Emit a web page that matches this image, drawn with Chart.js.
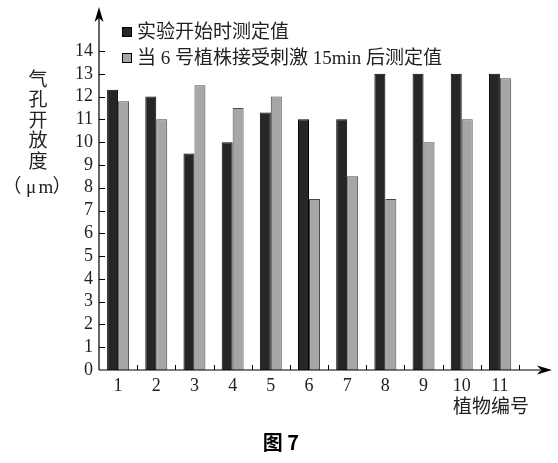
<!DOCTYPE html>
<html>
<head>
<meta charset="utf-8">
<script src="https://cdn.jsdelivr.net/npm/chart.js@4"></script>
<style>
    body { margin: 0; background: #fff; }
    canvas { display: block; }
</style>
</head>
<body>
<canvas id="chart" width="558" height="463"></canvas>
<script>
    var plantLabels = ['1', '2', '3', '4', '5', '6', '7', '8', '9', '10', '11'];
    var startValues = [12.3, 12, 9.5, 10, 11.3, 11, 11, 13, 13, 13, 13];
    var afterValues = [11.8, 11, 12.5, 11.5, 12, 7.5, 8.5, 7.5, 10, 11, 12.8];
    var yTicks = [0, 1, 2, 3, 4, 5, 6, 7, 8, 9, 10, 11, 12, 13, 14];

    var serif = '"Liberation Serif", "Noto Sans CJK SC", serif';
    var textColor = '#222';

    // axis arrows, inner ticks, legend and titles drawn over the chart
    var decorations = {
        id: 'decorations',
        afterDraw: function (chart) {
            var ctx = chart.ctx;
            var area = chart.chartArea;
            var y = chart.scales.y;
            ctx.save();
            ctx.strokeStyle = '#000';
            ctx.fillStyle = '#000';
            ctx.lineWidth = 1.2;

            // axes with arrows
            ctx.beginPath();
            ctx.moveTo(area.left, area.bottom);
            ctx.lineTo(area.left, 14);
            ctx.moveTo(area.left, area.bottom);
            ctx.lineTo(540, area.bottom);
            ctx.stroke();
            ctx.beginPath();
            ctx.moveTo(area.left, 7);
            ctx.lineTo(area.left - 4.5, 22);
            ctx.lineTo(area.left, 18);
            ctx.lineTo(area.left + 4.5, 22);
            ctx.closePath();
            ctx.fill();
            ctx.beginPath();
            ctx.moveTo(552, area.bottom);
            ctx.lineTo(537, area.bottom - 4.5);
            ctx.lineTo(541, area.bottom);
            ctx.lineTo(537, area.bottom + 4.5);
            ctx.closePath();
            ctx.fill();

            // y ticks pointing inward
            ctx.lineWidth = 1;
            ctx.beginPath();
            yTicks.forEach(function (v) {
                if (v === 0) return;
                var py = Math.round(y.getPixelForValue(v)) + 0.5;
                ctx.moveTo(area.left, py);
                ctx.lineTo(area.left + 6, py);
            });
            // x ticks at category boundaries
            var step = (area.right - area.left) / plantLabels.length;
            for (var i = 1; i <= plantLabels.length; i++) {
                var px = Math.round(area.left + step * i) + 0.5;
                ctx.moveTo(px, area.bottom);
                ctx.lineTo(px, area.bottom - 5);
            }
            ctx.stroke();

            // legend
            ctx.font = '19px ' + serif;
            ctx.textBaseline = 'middle';
            ctx.textAlign = 'left';
            var rows = [32, 58];
            chart.data.datasets.forEach(function (ds, idx) {
                ctx.fillStyle = ds.backgroundColor;
                ctx.fillRect(122, rows[idx] - 5, 10, 10);
                ctx.strokeStyle = '#000';
                ctx.strokeRect(122.5, rows[idx] - 4.5, 9, 9);
                ctx.fillStyle = textColor;
                ctx.fillText(ds.label, 137, rows[idx] + 1);
            });

            // y title, vertical
            ctx.textAlign = 'center';
            var chars = ['气', '孔', '开', '放', '度'];
            chars.forEach(function (c, k) {
                ctx.fillText(c, 38, 81 + k * 20.5);
            });
            var unit = ['（', 'μ', 'm', '）'];
            var ux = [12, 31, 46, 62];
            unit.forEach(function (c, k) {
                ctx.fillText(c, ux[k], 188);
            });

            // x title and caption
            ctx.textAlign = 'left';
            ctx.fillText('植物编号', 453, 408);
            ctx.font = 'bold 20px "Noto Sans CJK SC", sans-serif';
            ctx.textAlign = 'center';
            ctx.fillStyle = '#000';
            ctx.fillText('图 7', 281, 442);
            ctx.restore();
        }
    };

    new Chart(document.getElementById('chart'), {
        type: 'bar',
        data: {
            labels: plantLabels,
            datasets: [{
                label: '实验开始时测定值',
                data: startValues,
                backgroundColor: '#262626',
                borderColor: '#000',
                borderWidth: 1
            }, {
                label: '当 6 号植株接受刺激 15min 后测定值',
                data: afterValues,
                backgroundColor: '#a6a6a6',
                borderColor: '#4a4a4a',
                borderWidth: 1
            }]
        },
        options: {
            responsive: false,
            animation: false,
            devicePixelRatio: 1,
            layout: { padding: { top: 51, right: 39, left: 0, bottom: 0 } },
            plugins: {
                legend: { display: false },
                tooltip: { enabled: false }
            },
            datasets: {
                bar: { categoryPercentage: 0.575, barPercentage: 1 }
            },
            scales: {
                x: {
                    grid: { display: false, drawTicks: false },
                    border: { display: false },
                    ticks: {
                        color: textColor,
                        font: { family: serif, size: 18 },
                        padding: 5,
                        maxRotation: 0
                    },
                    afterFit: function (s) { s.height = 463 - 51 - 319; }
                },
                y: {
                    min: 0,
                    max: 14,
                    grid: { display: false, drawTicks: false },
                    border: { display: false },
                    ticks: {
                        color: textColor,
                        font: { family: serif, size: 18 },
                        padding: 6,
                        stepSize: 1,
                        autoSkip: false
                    },
                    afterFit: function (s) { s.width = 99; }
                }
            }
        },
        plugins: [decorations]
    });
</script>
</body>
</html>
